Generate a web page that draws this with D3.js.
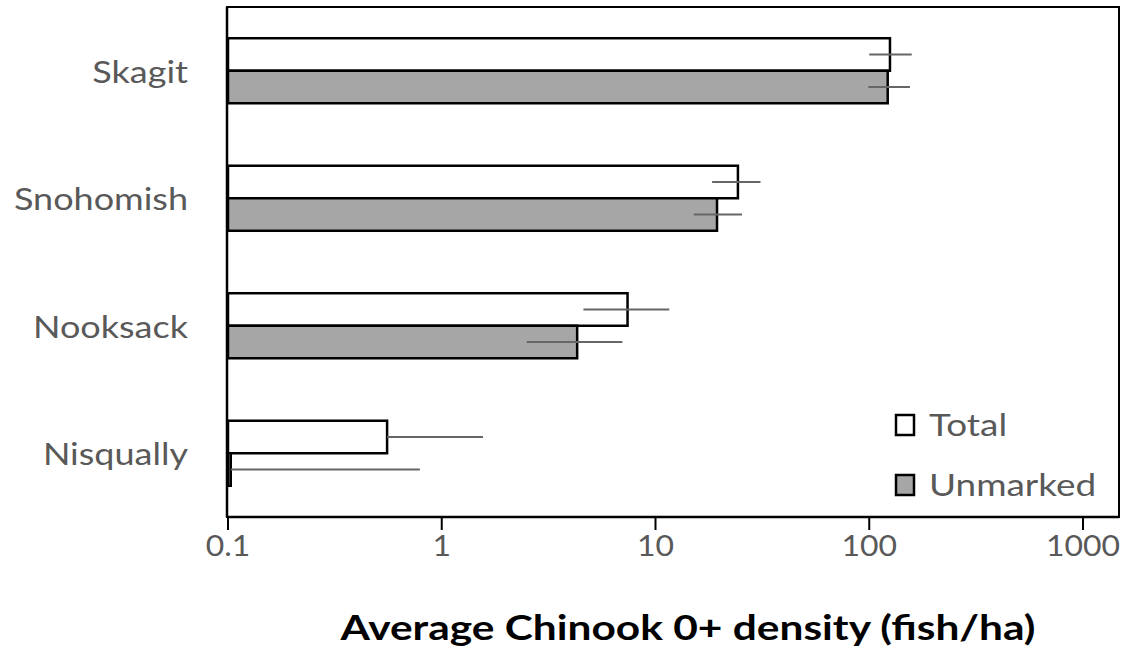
<!DOCTYPE html>
<html>
<head>
<meta charset="utf-8">
<script src="https://cdn.jsdelivr.net/npm/d3@7"></script>
<style>
  body { margin: 0; background: #fff; }
  svg { display: block; }
  .catLabel, .tickLabel, .legendText { font-family: Lato, "Open Sans", sans-serif; fill: #595959; }
  .axisTitle { font-family: Lato, "Open Sans", sans-serif; font-weight: bold; fill: #000; }
</style>
</head>
<body>
<div id="chart"></div>
<script>
// river categories, top to bottom
var categories = ["Skagit", "Snohomish", "Nooksack", "Nisqually"];
var seriesNames = ["Total", "Unmarked"];

// average density (fish/ha)
var totalValues = [125, 24.3, 7.4, 0.555];
var unmarkedValues = [122, 19.4, 4.3, 0.103];

// error bar ends (null = lower end not drawn on the log axis)
var totalLow = [100, 18.4, 4.6, null];
var totalHigh = [158, 31, 11.6, 1.56];
var unmarkedLow = [99, 15.1, 2.5, null];
var unmarkedHigh = [155, 25.4, 7.0, 0.79];

var tickValues = [0.1, 1, 10, 100, 1000];
var tickLabels = ["0.1", "1", "10", "100", "1000"];

var width = 1129, height = 654;
var plot = {left: 227, right: 1119, top: 7, bottom: 517};

var svg = d3.select("#chart").append("svg")
    .attr("width", width)
    .attr("height", height);

// the reference text is a bit wider than Lato, stretch it horizontally
function stretch(sel, k) {
    sel.each(function () {
        var w = this.getComputedTextLength();
        d3.select(this)
            .attr("textLength", w * k)
            .attr("lengthAdjust", "spacingAndGlyphs");
    });
}

var x = d3.scaleLog()
    .domain([0.1, 1000])
    .range([228, 1083]);

var y = d3.scaleBand()
    .domain(categories)
    .range([plot.top, plot.bottom])
    .paddingInner(0.49)
    .paddingOuter(0.245);

var ySeries = d3.scaleBand()
    .domain(seriesNames)
    .range([0, y.bandwidth()]);

var rows = [];
categories.forEach(function (c, i) {
    rows.push({cat: c, series: "Total", value: totalValues[i], low: totalLow[i], high: totalHigh[i]});
    rows.push({cat: c, series: "Unmarked", value: unmarkedValues[i], low: unmarkedLow[i], high: unmarkedHigh[i]});
});

var fills = {Total: "#ffffff", Unmarked: "#a6a6a6"};

// plot frame
svg.append("rect")
    .attr("x", plot.left)
    .attr("y", plot.top)
    .attr("width", plot.right - plot.left)
    .attr("height", plot.bottom - plot.top)
    .attr("fill", "none")
    .attr("stroke", "#000")
    .attr("stroke-width", 2);

// bars
svg.selectAll("rect.bar").data(rows)
    .enter()
    .append("rect")
    .attr("class", "bar")
    .attr("x", x(0.1))
    .attr("y", function (d) { return y(d.cat) + ySeries(d.series); })
    .attr("width", function (d) { return x(d.value) - x(0.1); })
    .attr("height", ySeries.bandwidth())
    .attr("fill", function (d) { return fills[d.series]; })
    .attr("stroke", "#000")
    .attr("stroke-width", 2.5);

// error bars
svg.selectAll("line.err").data(rows)
    .enter()
    .append("line")
    .attr("class", "err")
    .attr("x1", function (d) { return x(d.low == null ? d.value : d.low); })
    .attr("x2", function (d) { return x(d.high); })
    .attr("y1", function (d) { return y(d.cat) + ySeries(d.series) + ySeries.bandwidth() / 2; })
    .attr("y2", function (d) { return y(d.cat) + ySeries(d.series) + ySeries.bandwidth() / 2; })
    .attr("stroke", "#666")
    .attr("stroke-width", 2.2);

// axes lines
svg.append("line")
    .attr("x1", plot.left).attr("x2", plot.left)
    .attr("y1", plot.top).attr("y2", plot.bottom)
    .attr("stroke", "#000").attr("stroke-width", 2.5);
svg.append("line")
    .attr("x1", plot.left).attr("x2", plot.right)
    .attr("y1", plot.bottom).attr("y2", plot.bottom)
    .attr("stroke", "#000").attr("stroke-width", 2.5);

// x ticks
svg.selectAll("line.tick").data(tickValues)
    .enter()
    .append("line")
    .attr("class", "tick")
    .attr("x1", function (d) { return x(d); })
    .attr("x2", function (d) { return x(d); })
    .attr("y1", plot.bottom)
    .attr("y2", plot.bottom + 13)
    .attr("stroke", "#000")
    .attr("stroke-width", 2);

svg.selectAll("text.tickLabel").data(tickValues)
    .enter()
    .append("text")
    .attr("class", "tickLabel")
    .attr("x", function (d) { return x(d); })
    .attr("y", 556)
    .attr("text-anchor", "middle")
    .style("font-size", "29px")
    .text(function (d, i) { return tickLabels[i]; })
    .call(stretch, 1.1);

// category labels
svg.selectAll("text.catLabel").data(categories)
    .enter()
    .append("text")
    .attr("class", "catLabel")
    .attr("x", 188)
    .attr("y", function (d) { return y(d) + y.bandwidth() / 2 + 12; })
    .attr("text-anchor", "end")
    .style("font-size", "30px")
    .text(function (d) { return d; })
    .call(stretch, 1.2);

// axis title
svg.append("text")
    .attr("class", "axisTitle")
    .attr("x", 688)
    .attr("y", 640)
    .attr("text-anchor", "middle")
    .style("font-size", "34px")
    .attr("textLength", 695)
    .attr("lengthAdjust", "spacingAndGlyphs")
    .text("Average Chinook 0+ density (fish/ha)");

// legend
var legend = svg.selectAll("g.legend").data(seriesNames)
    .enter()
    .append("g")
    .attr("class", "legend")
    .attr("transform", function (d, i) { return "translate(896," + (415 + i * 60) + ")"; });

legend.append("rect")
    .attr("width", 18)
    .attr("height", 20)
    .attr("fill", function (d) { return fills[d]; })
    .attr("stroke", "#000")
    .attr("stroke-width", 2.5);

legend.append("text")
    .attr("class", "legendText")
    .attr("x", 33)
    .attr("y", 21)
    .style("font-size", "31px")
    .text(function (d) { return d; })
    .call(stretch, 1.19);
</script>
</body>
</html>
